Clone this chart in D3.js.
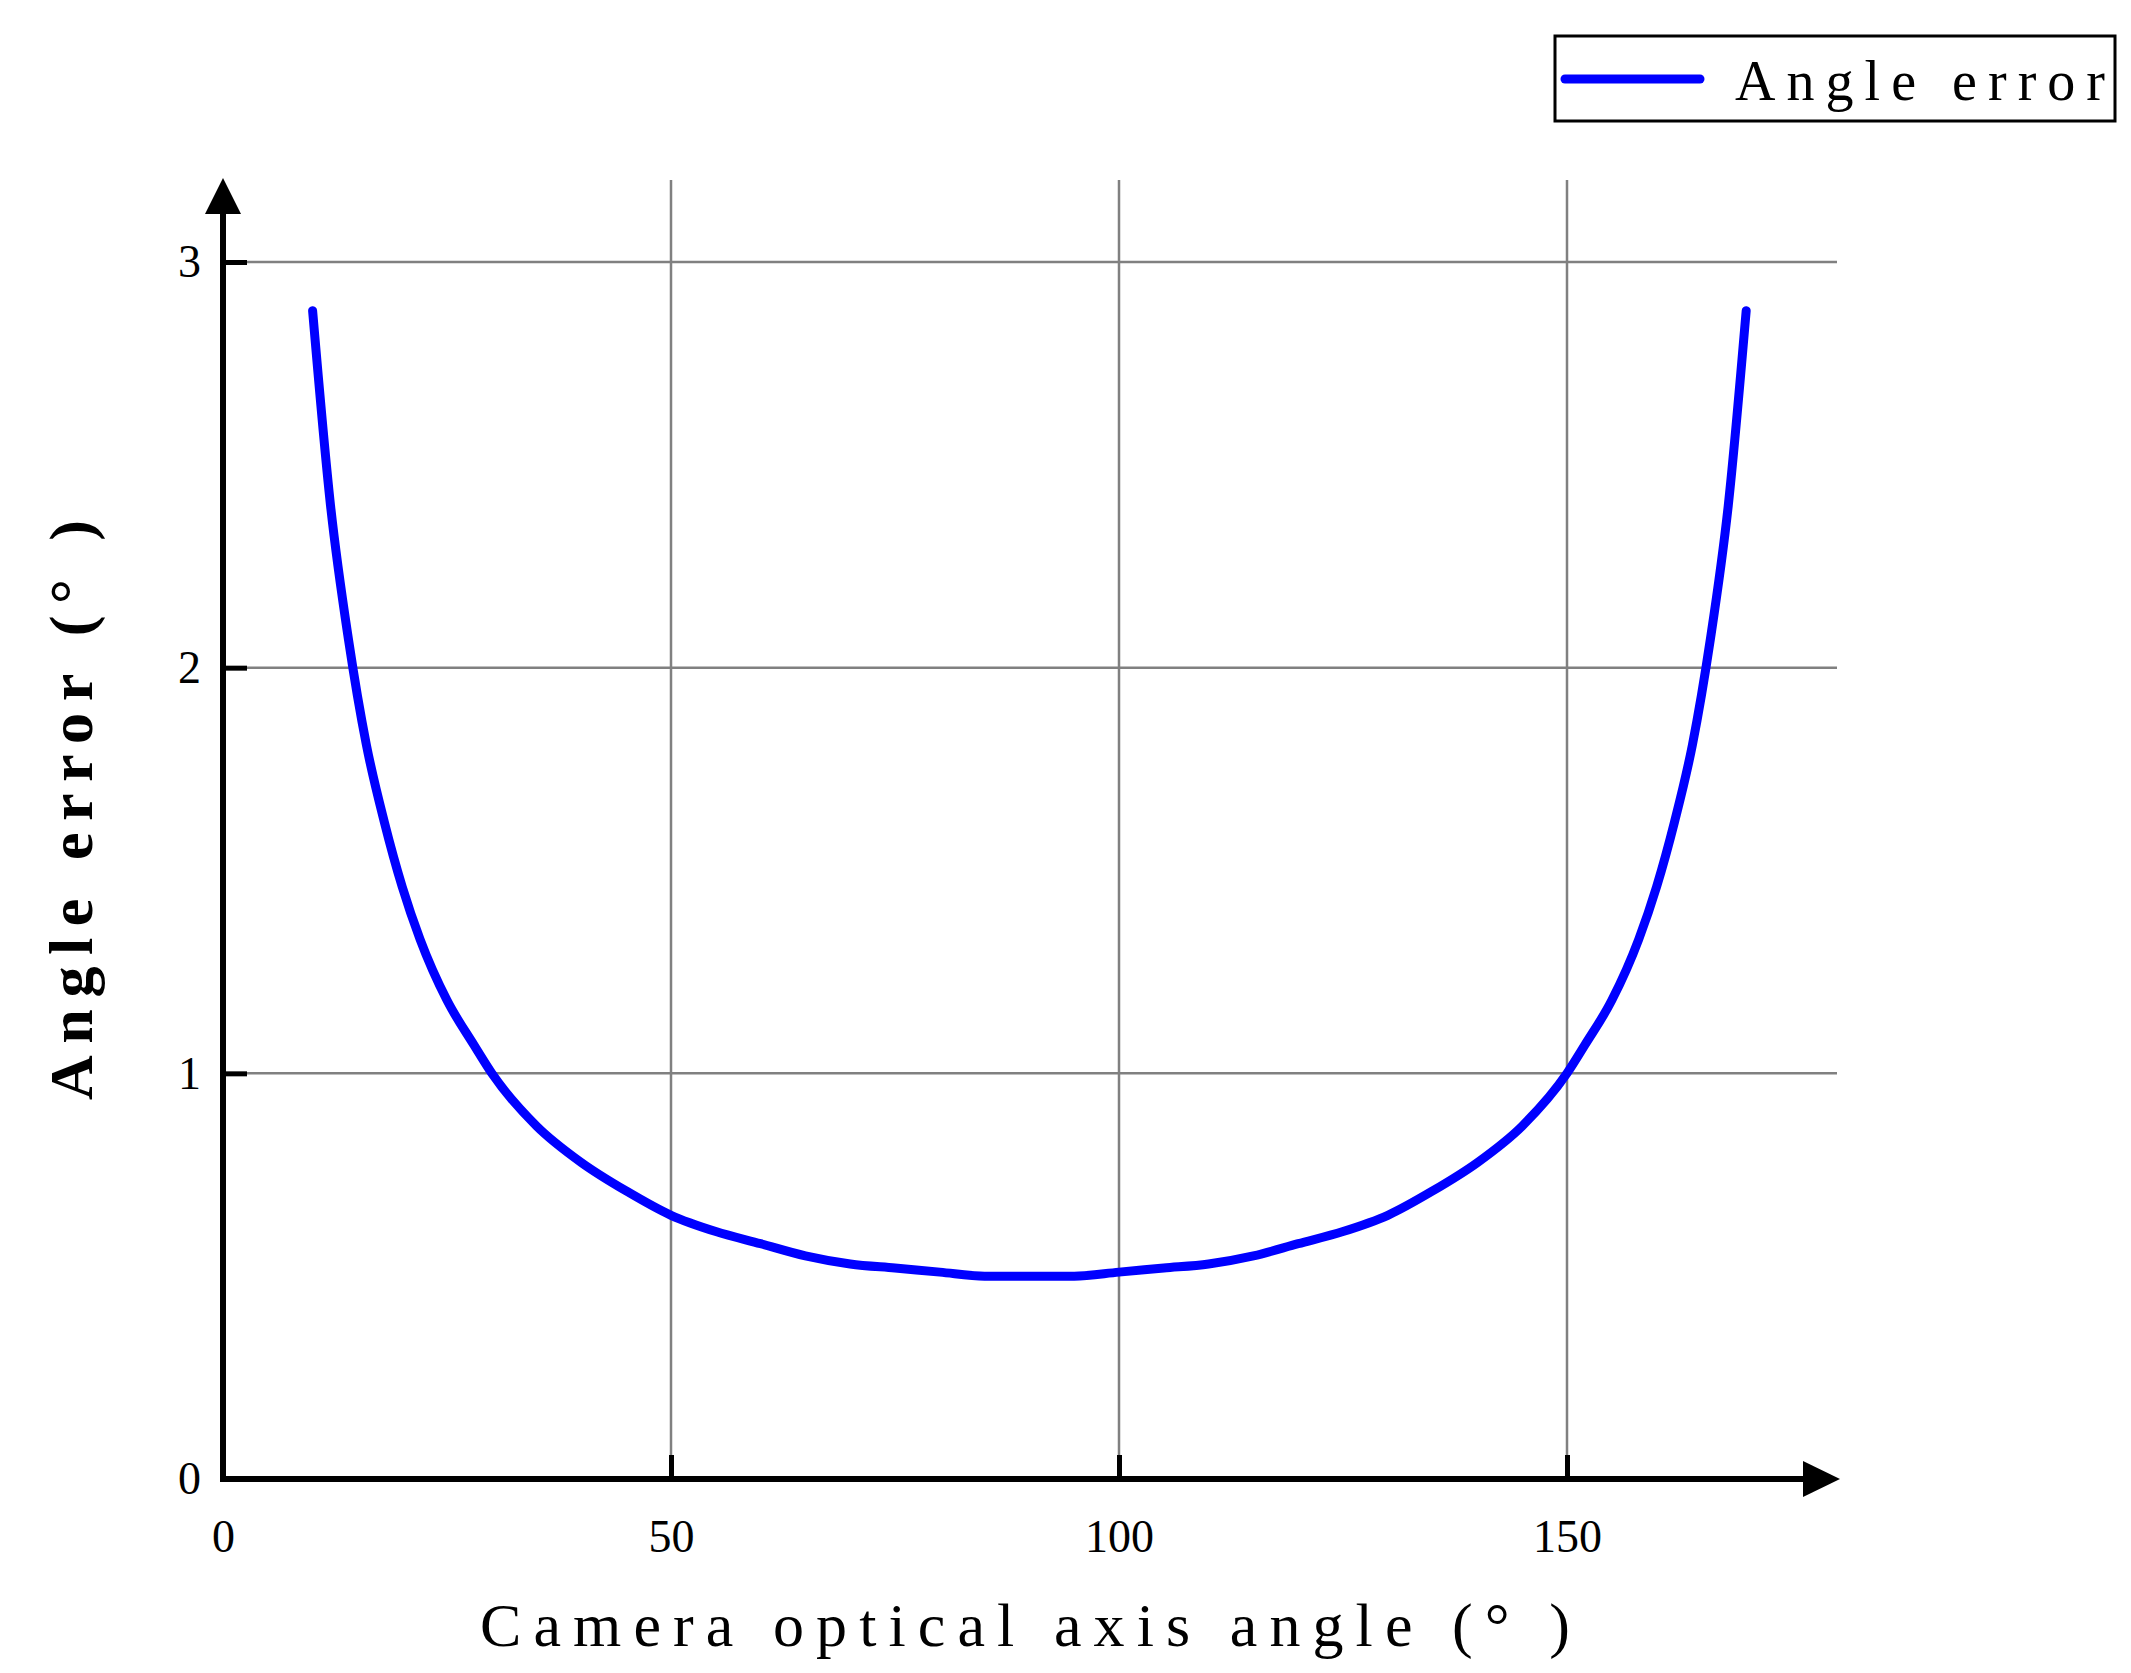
<!DOCTYPE html>
<html><head><meta charset="utf-8">
<script src="https://cdn.jsdelivr.net/npm/d3@7"></script>
<style>body{margin:0;background:#fff}</style></head>
<body><svg id="c" width="2131" height="1673"></svg>
<script>
const angles = [10,12,14,16,18,20,22,25,28,30,35,40,45,50,55,60,65,70,75,80,85,90,95,100,105,110,115,120,125,130,135,140,145,150,152,155,158,160,162,164,166,168,170];
const errors = [2.88,2.40,2.07,1.81,1.62,1.46,1.33,1.18,1.07,1.00,0.87,0.78,0.71,0.65,0.61,0.58,0.55,0.53,0.52,0.51,0.50,0.50,0.50,0.51,0.52,0.53,0.55,0.58,0.61,0.65,0.71,0.78,0.87,1.00,1.07,1.18,1.33,1.46,1.62,1.81,2.07,2.40,2.88];
const xTicks = [0,50,100,150];
const yTicks = [0,1,2,3];
const seriesName = "Angle error";

const svg = d3.select("#c");
const x = d3.scaleLinear().domain([0,150]).range([223,1567]);
const y = d3.scaleLinear().domain([0,3]).range([1479,262]);
const font = "'Liberation Serif', serif";

// grid
svg.append("g").selectAll("line").data(yTicks.filter(d=>d>0)).join("line")
  .attr("x1",x(0)).attr("x2",1837).attr("y1",d=>y(d)).attr("y2",d=>y(d))
  .attr("stroke","#808080").attr("stroke-width",2.5);
svg.append("g").selectAll("line").data(xTicks.filter(d=>d>0)).join("line")
  .attr("y1",180).attr("y2",y(0)).attr("x1",d=>x(d)).attr("x2",d=>x(d))
  .attr("stroke","#808080").attr("stroke-width",2.5);

// axes via d3
const ax = svg.append("g").attr("transform",`translate(0,${y(0)})`)
  .call(d3.axisBottom(x).tickValues(xTicks).tickSize(-24).tickPadding(40).tickFormat(d3.format("d")));
ax.select(".domain").remove();
const ay = svg.append("g").attr("transform",`translate(${x(0)},0)`)
  .call(d3.axisLeft(y).tickValues(yTicks).tickSize(-24).tickPadding(22).tickFormat(d3.format("d")));
ay.select(".domain").remove();
[ax,ay].forEach(g=>{
  g.selectAll(".tick line").attr("stroke","#000").attr("stroke-width",5);
  g.selectAll(".tick text").attr("font-family",font).attr("font-size",46).attr("fill","#000");
});
ax.selectAll(".tick text").attr("dy","0.71em");
ay.select(".tick:first-of-type line").remove();
ax.select(".tick:first-of-type line").remove();

// axis lines with arrows
svg.append("line").attr("x1",x(0)).attr("x2",1805).attr("y1",y(0)).attr("y2",y(0)).attr("stroke","#000").attr("stroke-width",6);
svg.append("path").attr("d",`M1803,${y(0)-18}L1840,${y(0)}L1803,${y(0)+18}Z`).attr("fill","#000");
svg.append("line").attr("x1",x(0)).attr("x2",x(0)).attr("y1",y(0)+3).attr("y2",210).attr("stroke","#000").attr("stroke-width",6);
svg.append("path").attr("d",`M${x(0)-18},214L${x(0)},178L${x(0)+18},214Z`).attr("fill","#000");

// curve
const line = d3.line().x((d,i)=>x(angles[i])).y(d=>y(d)).curve(d3.curveMonotoneX);
svg.append("path").datum(errors).attr("d",line).attr("fill","none")
  .attr("stroke","#0000ff").attr("stroke-width",9).attr("stroke-linecap","round");

// labels
svg.append("text").attr("x",1025).attr("y",1646).attr("text-anchor","middle")
  .attr("font-family",font).attr("font-size",62).attr("textLength",1090).attr("lengthAdjust","spacing")
  .text("Camera optical axis angle (° )");
svg.append("text").attr("transform","translate(92,810) rotate(-90)").attr("text-anchor","middle")
  .attr("font-family",font).attr("font-size",62).attr("font-weight","bold").attr("textLength",580).attr("lengthAdjust","spacing")
  .text("Angle error (° )");

// legend
svg.append("rect").attr("x",1555).attr("y",36).attr("width",560).attr("height",85)
  .attr("fill","#fff").attr("stroke","#000").attr("stroke-width",3);
svg.append("line").attr("x1",1565).attr("x2",1700).attr("y1",79).attr("y2",79)
  .attr("stroke","#0000ff").attr("stroke-width",9).attr("stroke-linecap","round");
svg.append("text").attr("x",1735).attr("y",100).attr("font-family",font).attr("font-size",56)
  .attr("textLength",370).attr("lengthAdjust","spacing").text(seriesName);
</script></body></html>
